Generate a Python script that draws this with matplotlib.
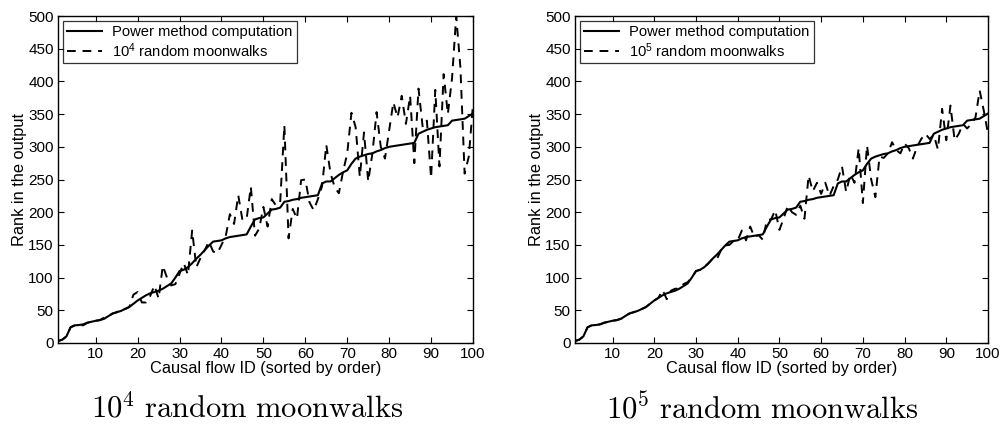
import matplotlib
matplotlib.use("Agg")
import matplotlib.pyplot as plt

plt.rcParams['font.family'] = ['Liberation Sans', 'DejaVu Sans']

flow_id = list(range(1, 101))

# Rank from the power method computation (shared by both panels)
power_method = [
    3, 5, 10, 24, 27, 27.5, 28.5, 31, 32.5, 34,
    35, 37, 41, 45, 47, 49, 52, 55, 60, 65,
    69, 73, 76, 78, 80, 83, 87, 91, 100, 110,
    112, 116, 122, 129, 135, 142, 149, 155, 156, 157,
    160, 162, 163, 164, 165, 166, 178, 189, 191, 192,
    198, 204, 205, 207, 216, 217, 219, 220, 222, 223,
    224, 225, 226, 244, 247, 247, 252, 257, 261, 264,
    274, 282, 285, 287, 289, 290, 293, 295, 298, 300,
    301, 302, 303, 304, 305, 306, 320, 323, 326, 328,
    330, 331, 332, 333, 340, 341, 342, 343, 347, 351,
]

# Rank estimated from 10^4 random moonwalks
walks_1e4 = [
    3, 5, 10, 24, 27, 27.5, 27, 31, 32.5, 34,
    35, 39, 41, 45, 47, 53, 52, 55, 74, 78,
    62, 62, 72, 88, 68, 118, 100, 88, 90, 106,
    122, 104, 172, 116, 130, 142, 155, 140, 137, 150,
    163, 197, 182, 226, 188, 190, 239, 164, 175, 208,
    178, 220, 210, 215, 333, 160, 205, 190, 249, 250,
    215, 203, 220, 240, 303, 260, 238, 229, 262, 290,
    352, 330, 254, 322, 247, 290, 353, 300, 282, 325,
    368, 345, 378, 335, 378, 275, 389, 330, 340, 252,
    387, 270, 411, 350, 405, 500, 421, 259, 285, 365,
]

# Rank estimated from 10^5 random moonwalks
walks_1e5 = [
    3, 5, 10, 24, 27, 27.5, 28.5, 31, 32.5, 34,
    35, 37, 41, 45, 47, 49, 52, 55, 60, 65,
    69, 81, 67, 80, 83, 83, 90, 93, 100, 110,
    112, 116, 122, 129, 128, 142, 149, 150, 156, 157,
    172, 157, 178, 162, 165, 158, 188, 189, 203, 173,
    190, 210, 200, 196, 210, 190, 256, 232, 245, 228,
    245, 225, 240, 250, 270, 231, 258, 245, 298, 214,
    302, 250, 223, 285, 283, 290, 307, 295, 290, 305,
    298, 282, 300, 312, 320, 312, 318, 296, 358, 310,
    363, 310, 320, 335, 328, 335, 345, 386, 355, 320,
]

y_ticks = list(range(0, 501, 50))
x_ticks = list(range(10, 101, 10))

panels = [
    (walks_1e4, r'$\mathregular{10^4}$ random moonwalks', r'$10^4\ \mathrm{random\ moonwalks}$'),
    (walks_1e5, r'$\mathregular{10^5}$ random moonwalks', r'$10^5\ \mathrm{random\ moonwalks}$'),
]

fig = plt.figure(figsize=(10.02, 4.25), dpi=100)
rects = [
    [58 / 1002, 1 - 343 / 425, (473 - 58) / 1002, (343 - 16) / 425],
    [575 / 1002, 1 - 343 / 425, (988 - 575) / 1002, (343 - 16) / 425],
]
caption_x = [247 / 1002, 762 / 1002]

for rect, cx, (walks, leg_label, caption) in zip(rects, caption_x, panels):
    ax = fig.add_axes(rect)
    ax.plot(flow_id, power_method, color='black', lw=1.5, label='Power method computation')
    ax.plot(flow_id, walks, color='black', lw=1.4, dashes=(4.5, 3.5), label=leg_label)
    ax.set_xlim(1, 100)
    ax.set_ylim(0, 500)
    ax.set_xticks(x_ticks)
    ax.set_yticks(y_ticks)
    ax.tick_params(direction='in', top=True, right=True, labelsize=11, length=4, width=0.8,
                   pad=3)
    for s in ax.spines.values():
        s.set_linewidth(1.0)
    ax.set_xlabel('Causal flow ID (sorted by order)', fontsize=11.8, labelpad=0)
    ax.set_ylabel('Rank in the output', fontsize=11.8, labelpad=1)
    leg = ax.legend(loc='upper left', fontsize=10.6, frameon=True, fancybox=False,
                    edgecolor='black', borderpad=0.25, labelspacing=0.15,
                    handlelength=2.4, handletextpad=0.7, borderaxespad=0.35)
    leg.get_frame().set_linewidth(0.9)
    fig.text(cx, 1 - 409 / 425, caption, ha='center', va='center', fontsize=22,
             math_fontfamily='cm')

fig.savefig('out.png', dpi=100)
